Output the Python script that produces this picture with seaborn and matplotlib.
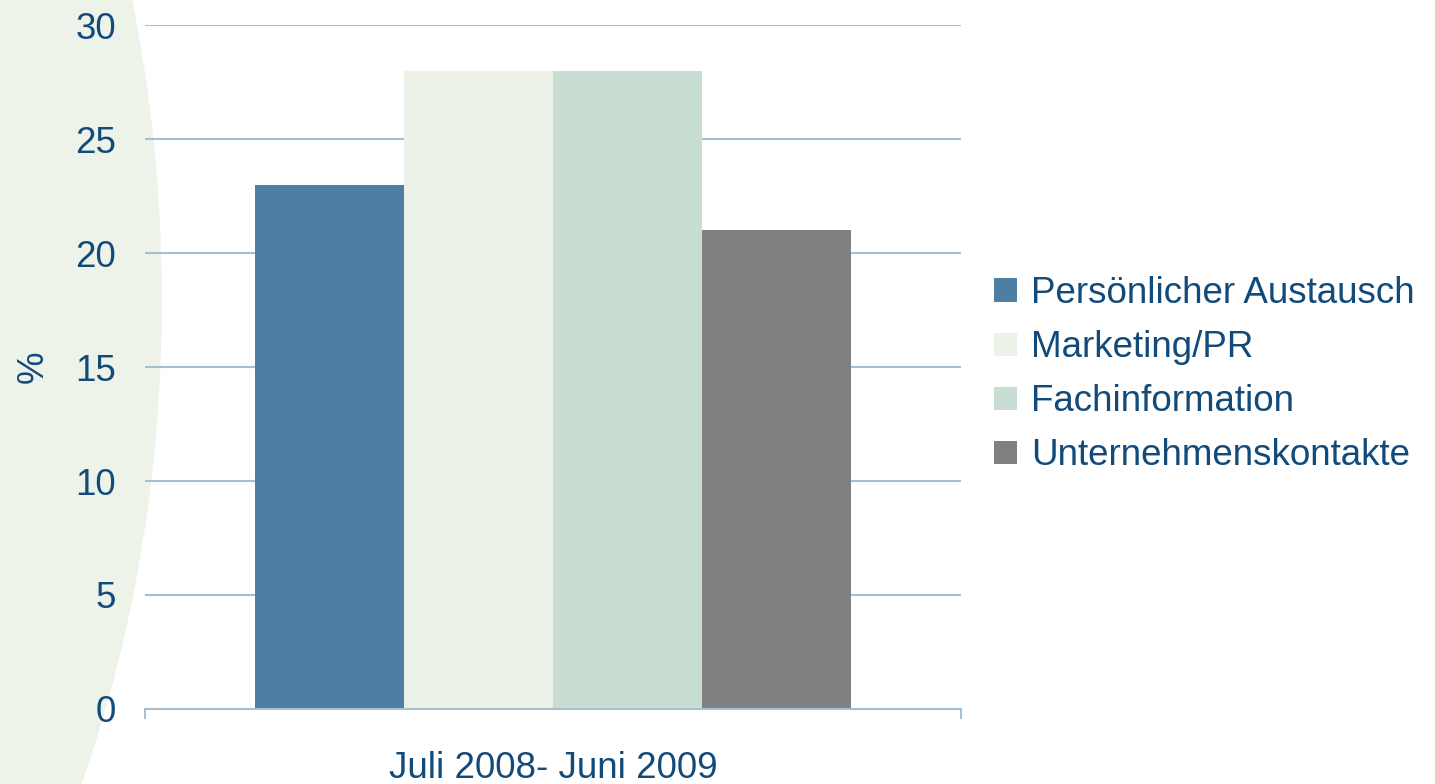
import numpy as np
import pandas as pd
import matplotlib
matplotlib.use("Agg")
import matplotlib.pyplot as plt
import seaborn as sns
from matplotlib.patches import Ellipse

# data
periods = ["Juli 2008- Juni 2009"]
categories = ["Persönlicher Austausch", "Marketing/PR", "Fachinformation", "Unternehmenskontakte"]
values = [23, 28, 28, 21]
bar_colors = ["#4e7ea1", "#edf2e8", "#c9ded2", "#808080"]
y_ticks = [0, 5, 10, 15, 20, 25, 30]

text_color = "#124a7a"
grid_color = "#a6bfd2"
fs = 26.5

sns.set_theme(style="white")
plt.rcParams["font.family"] = ["Liberation Sans", "DejaVu Sans"]

df = pd.DataFrame({
    "period": periods * len(categories),
    "category": categories,
    "value": values,
})

fig = plt.figure(figsize=(14.35, 7.84), dpi=100)
fig.patch.set_facecolor("white")

# pale green slide decoration on the left, on its own background axes
bg_ax = fig.add_axes([0, 0, 1, 1], zorder=-1)
bg_ax.set_axis_off()
bg_ax.set_xlim(0, 1)
bg_ax.set_ylim(0, 1)
bg_ax.add_patch(Ellipse((-0.336, 0.617), 0.8976, 2.551,
                        facecolor="#eef3ea", edgecolor="none"))

ax = fig.add_axes([0.101, 0.0957, 0.5687, 0.8723])
ax.set_facecolor("none")

sns.barplot(data=df, x="period", y="value", hue="category", palette=bar_colors,
            hue_order=categories, width=0.73, saturation=1, linewidth=0, ax=ax)

ax.set_xlim(-0.5, 0.5)
ax.set_ylim(0, 30)
ax.set_yticks(y_ticks)
ax.set_axisbelow(True)
ax.yaxis.grid(True, color=grid_color, linewidth=1.5)
ax.xaxis.grid(False)

for side in ["top", "right", "left"]:
    ax.spines[side].set_visible(False)
ax.spines["bottom"].set_color(grid_color)
ax.spines["bottom"].set_linewidth(1.5)

ax.tick_params(axis="y", length=0, pad=21, labelsize=fs, labelcolor=text_color)
ax.tick_params(axis="x", which="major", length=0, pad=30, labelsize=fs, labelcolor=text_color)
ax.set_xticks([-0.5, 0.5], minor=True)
ax.tick_params(axis="x", which="minor", length=7, width=1.5, color=grid_color, bottom=True)

ax.set_xlabel("")
ax.set_ylabel("%", fontsize=fs, color=text_color)
ax.yaxis.set_label_coords(-0.115, 0.5)

handles, labels = ax.get_legend_handles_labels()
leg = ax.legend(handles, labels, loc="center left", bbox_to_anchor=(0.693, 0.522),
                bbox_transform=fig.transFigure, frameon=False, fontsize=fs,
                handlelength=0.6, handleheight=0.6, handletextpad=0.4,
                labelspacing=0.52, borderpad=0, borderaxespad=0)
for t in leg.get_texts():
    t.set_color(text_color)

fig.savefig("out.png", dpi=100, facecolor=fig.get_facecolor())
